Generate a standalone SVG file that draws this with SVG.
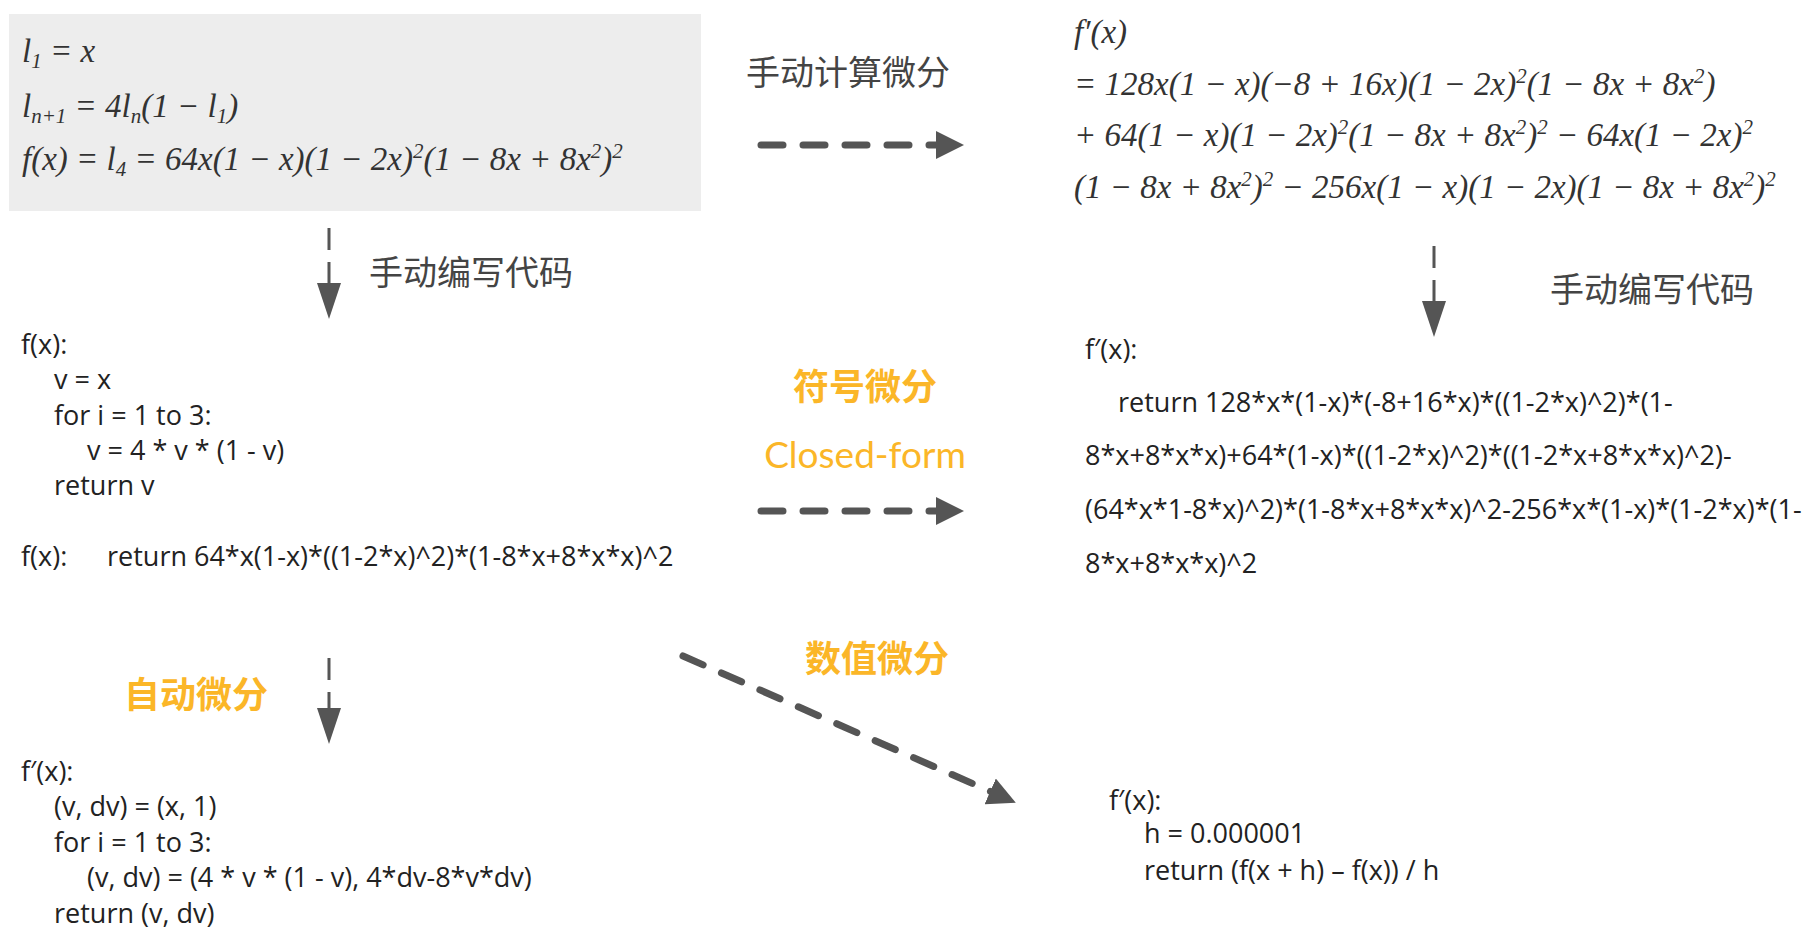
<svg xmlns="http://www.w3.org/2000/svg" width="1820" height="932" viewBox="0 0 1820 932">
<style>
.m{font-family:"Liberation Serif",serif;font-style:italic;font-size:33px;fill:#333}
.c{font-family:"Open Sans","Liberation Sans",sans-serif;font-size:27px;fill:#222}
.cn{font-family:"Noto Sans CJK SC",sans-serif;font-size:34px;fill:#444}
.or{font-family:"Noto Sans CJK SC",sans-serif;font-size:36px;font-weight:bold;fill:#FBB628}
.ce{font-family:Lato,"Liberation Sans",sans-serif;font-size:37px;fill:#FBB628}
.d{stroke:#555;stroke-width:7;stroke-linecap:round;stroke-dasharray:22 20;fill:none}
.t{stroke:#555;stroke-width:3;stroke-dasharray:22 12;fill:none}
</style>
<defs>
<marker id="a" markerWidth="4" markerHeight="4" refX="2" refY="2" orient="auto" markerUnits="strokeWidth"><path d="M0,0L4,2L0,4Z" fill="#555"/></marker>
<marker id="b" markerWidth="12" markerHeight="8" refX="4" refY="4" orient="auto" markerUnits="strokeWidth"><path d="M0,0L12,4L0,8Z" fill="#555"/></marker>
</defs>
<rect width="1820" height="932" fill="#fff"/>
<g id="src">
<rect x="9" y="14" width="692" height="197" fill="#ededed"/>
<text class="m" x="22" y="62">l<tspan font-size="21" dy="6">1</tspan><tspan dy="-6"> = x</tspan></text>
<text class="m" x="22" y="117">l<tspan font-size="21" dy="6">n+1</tspan><tspan dy="-6"> = 4l</tspan><tspan font-size="21" dy="6">n</tspan><tspan dy="-6">(1 − l</tspan><tspan font-size="21" dy="6">1</tspan><tspan dy="-6">)</tspan></text>
<text class="m" x="22" y="170">f(x) = l<tspan font-size="21" dy="6">4</tspan><tspan dy="-6"> = 64x(1 − x)(1 − 2x)</tspan><tspan font-size="21" dy="-12">2</tspan><tspan dy="12">(1 − 8x + 8x</tspan><tspan font-size="21" dy="-12">2</tspan><tspan dy="12">)</tspan><tspan font-size="21" dy="-12">2</tspan></text>
</g>
<g id="deriv">
<text class="m" x="1074" y="43">f′(x)</text>
<text class="m" x="1074" y="95">= 128x(1 − x)(−8 + 16x)(1 − 2x)<tspan font-size="21" dy="-12">2</tspan><tspan dy="12">(1 − 8x + 8x</tspan><tspan font-size="21" dy="-12">2</tspan><tspan dy="12">)</tspan></text>
<text class="m" x="1074" y="146">+ 64(1 − x)(1 − 2x)<tspan font-size="21" dy="-12">2</tspan><tspan dy="12">(1 − 8x + 8x</tspan><tspan font-size="21" dy="-12">2</tspan><tspan dy="12">)</tspan><tspan font-size="21" dy="-12">2</tspan><tspan dy="12"> − 64x(1 − 2x)</tspan><tspan font-size="21" dy="-12">2</tspan></text>
<text class="m" x="1074" y="198">(1 − 8x + 8x<tspan font-size="21" dy="-12">2</tspan><tspan dy="12">)</tspan><tspan font-size="21" dy="-12">2</tspan><tspan dy="12"> − 256x(1 − x)(1 − 2x)(1 − 8x + 8x</tspan><tspan font-size="21" dy="-12">2</tspan><tspan dy="12">)</tspan><tspan font-size="21" dy="-12">2</tspan></text>
</g>
<g id="code1">
<text class="c" x="21" y="354">f(x):</text>
<text class="c" x="54" y="389">v = x</text>
<text class="c" x="54" y="425">for i = 1 to 3:</text>
<text class="c" x="87" y="460">v = 4 * v * (1 - v)</text>
<text class="c" x="54" y="495">return v</text>
<text class="c" x="21" y="566">f(x):</text>
<text class="c" x="107" y="566">return 64*x(1-x)*((1-2*x)^2)*(1-8*x+8*x*x)^2</text>
</g>
<g id="code2">
<text class="c" x="1085" y="359">f′(x):</text>
<text class="c" x="1118" y="412">return 128*x*(1-x)*(-8+16*x)*((1-2*x)^2)*(1-</text>
<text class="c" x="1085" y="465">8*x+8*x*x)+64*(1-x)*((1-2*x)^2)*((1-2*x+8*x*x)^2)-</text>
<text class="c" x="1085" y="519">(64*x*1-8*x)^2)*(1-8*x+8*x*x)^2-256*x*(1-x)*(1-2*x)*(1-</text>
<text class="c" x="1085" y="573">8*x+8*x*x)^2</text>
</g>
<g id="code3">
<text class="c" x="21" y="781">f′(x):</text>
<text class="c" x="54" y="816">(v, dv) = (x, 1)</text>
<text class="c" x="54" y="852">for i = 1 to 3:</text>
<text class="c" x="87" y="887">(v, dv) = (4 * v * (1 - v), 4*dv-8*v*dv)</text>
<text class="c" x="54" y="923">return (v, dv)</text>
</g>
<g id="code4">
<text class="c" x="1109" y="810">f′(x):</text>
<text class="c" x="1144" y="843">h = 0.000001</text>
<text class="c" x="1144" y="880">return (f(x + h) – f(x)) / h</text>
</g>
<g id="labels">
<text class="cn" x="746" y="85">手动计算微分</text>
<text class="cn" x="369" y="285">手动编写代码</text>
<text class="cn" x="1550" y="302">手动编写代码</text>
<text class="or" x="865" y="400" text-anchor="middle">符号微分</text>
<text class="ce" x="865" y="468" text-anchor="middle">Closed-form</text>
<text class="or" x="196" y="708" text-anchor="middle">自动微分</text>
<text class="or" x="877" y="672" text-anchor="middle">数值微分</text>
</g>
<g id="connectors">
<path class="d" d="M761,145H950" marker-end="url(#a)"/>
<path class="d" d="M761,511H950" marker-end="url(#a)"/>
<path class="t" d="M329,228V295" marker-end="url(#b)"/>
<path class="t" d="M1434,246V313" marker-end="url(#b)"/>
<path class="t" d="M329,658V720" marker-end="url(#b)"/>
<path class="d" d="M683,656L1003,797" marker-end="url(#a)"/>
</g>
</svg>
